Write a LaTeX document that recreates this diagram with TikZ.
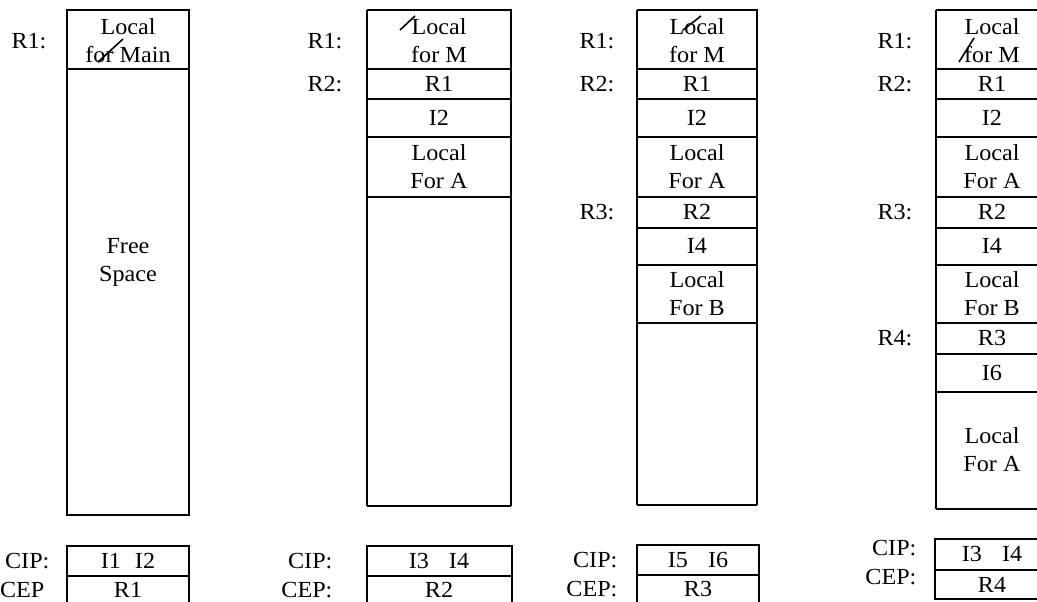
\documentclass[tikz,border=0pt]{standalone}
\usepackage{fontspec}
\setmainfont{Liberation Serif}[FakeStretch=1.05]
\usetikzlibrary{positioning}

\begin{document}
\begin{tikzpicture}[x=1pt, y=-1pt, line width=1.2pt, font=\fontsize{23}{28}\selectfont,
		cell/.style={align=center, inner sep=0pt},
		lbl/.style={anchor=east, inner sep=0pt},
		heavy/.style={line width=2.2pt},
		strike/.style={line width=1.6pt}]
	\useasboundingbox (0,0) rectangle (1037,602);
	\clip (0,0) rectangle (1037,602);
	% (1) stack with only main
	\begin{scope}
		\draw (67,10) rectangle (189,515);
		\draw (67,69) -- (189,69);
		\node[cell] (locm) at (128,41) {Local\\for Main};
		\node[cell] (free) at (128,262) {Free\\Space};
		\node[lbl] (r1) at (47,41) {R1:};
		\draw[strike] (98,62) -- (123,39);
		% registers
		\draw (67,546) rectangle (189,620);
		\draw (67,576) -- (189,576);
		\node[cell] (cip) at (128,561) {I1\hspace{14pt}I2};
		\node[cell] (cep) at (128,590) {R1};
		\node[lbl] (cipl) at (50,561) {CIP:};
		\node[lbl] (cepl) at (45,590) {CEP};
	\end{scope}
	% (2) main calls A
	\begin{scope}
		\draw (367,10) -- (367,506);
		\draw (367,10) -- (511,10) -- (511,506);
		\foreach \y in {69,99} \draw (367,\y) -- (511,\y);
		\foreach \y in {137,197,506} \draw[heavy] (367,\y) -- (511,\y);
		\node[cell] (locm) at (439,41) {Local\\for M};
		\node[cell] (ra) at (439,84) {R1};
		\node[cell] (ia) at (439,118) {I2};
		\node[cell] (loca) at (439,167) {Local\\For A};
		\node[lbl] (r1) at (343,41) {R1:};
		\node[lbl] (r2) at (343,84) {R2:};
		\draw[strike] (400,30) -- (415,16);
		% registers
		\draw (367,546) rectangle (512,620);
		\draw (367,576) -- (512,576);
		\node[cell] (cip) at (439,561) {I3\hspace{20pt}I4};
		\node[cell] (cep) at (439,590) {R2};
		\node[lbl] (cipl) at (333,561) {CIP:};
		\node[lbl] (cepl) at (333,590) {CEP:};
	\end{scope}
	% (3) A calls B
	\begin{scope}
		\draw (637,10) -- (637,505);
		\draw (637,10) -- (757,10) -- (757,505);
		\foreach \y in {69,99,265} \draw (637,\y) -- (757,\y);
		\foreach \y in {137,197,228,323,505} \draw[heavy] (637,\y) -- (757,\y);
		\node[cell] (locm) at (697,41) {Local\\for M};
		\node[cell] (ra) at (697,84) {R1};
		\node[cell] (ia) at (697,118) {I2};
		\node[cell] (loca) at (697,167) {Local\\For A};
		\node[cell] (rb) at (697,212) {R2};
		\node[cell] (ib) at (697,246) {I4};
		\node[cell] (locb) at (697,294) {Local\\For B};
		\node[lbl] (r1) at (615,41) {R1:};
		\node[lbl] (r2) at (615,84) {R2:};
		\node[lbl] (r3) at (615,212) {R3:};
		\draw[strike] (683,30) -- (701,16);
		% registers
		\draw (637,545) rectangle (759,620);
		\draw[heavy] (637,545) -- (759,545);
		\draw[heavy] (637,575) -- (759,575);
		\node[cell] (cip) at (698,560) {I5\hspace{20pt}I6};
		\node[cell] (cep) at (698,589) {R3};
		\node[lbl] (cipl) at (618,560) {CIP:};
		\node[lbl] (cepl) at (618,589) {CEP:};
	\end{scope}
	% (4) B calls A again
	\begin{scope}
		\draw (936,10) -- (936,509);
		\draw (936,10) -- (1048,10) -- (1048,509);
		\foreach \y in {69,99,265} \draw (936,\y) -- (1048,\y);
		\foreach \y in {137,197,228,323,354,392,509} \draw[heavy] (936,\y) -- (1048,\y);
		\node[cell] (locm) at (992,41) {Local\\for M};
		\node[cell] (ra) at (992,84) {R1};
		\node[cell] (ia) at (992,118) {I2};
		\node[cell] (loca) at (992,167) {Local\\For A};
		\node[cell] (rb) at (992,212) {R2};
		\node[cell] (ib) at (992,246) {I4};
		\node[cell] (locb) at (992,294) {Local\\For B};
		\node[cell] (rc) at (992,338) {R3};
		\node[cell] (ic) at (992,373) {I6};
		\node[cell] (locc) at (992,450) {Local\\For A};
		\node[lbl] (r1) at (913,41) {R1:};
		\node[lbl] (r2) at (913,84) {R2:};
		\node[lbl] (r3) at (913,212) {R3:};
		\node[lbl] (r4) at (913,338) {R4:};
		\draw[strike] (959,62) -- (974,38);
		% registers
		\draw[heavy] (935,539) rectangle (1048,599);
		\draw[heavy] (935,570) -- (1048,570);
		\node[cell] (cip) at (992,554) {I3\hspace{20pt}I4};
		\node[cell] (cep) at (992,585) {R4};
		\node[lbl] (cipl) at (917,548) {CIP:};
		\node[lbl] (cepl) at (917,577) {CEP:};
	\end{scope}
\end{tikzpicture}
\end{document}
